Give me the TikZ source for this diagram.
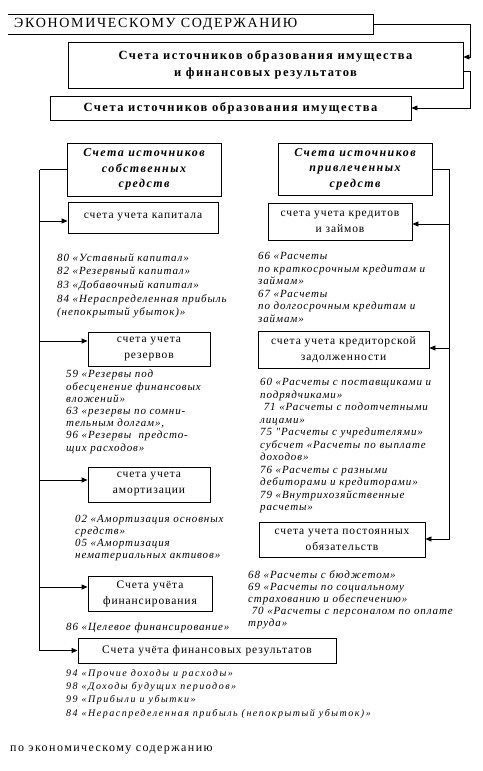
\documentclass[tikz,border=0pt]{standalone}
\usepackage{fontspec}
\setmainfont{Liberation Serif}
\usetikzlibrary{arrows.meta,calc}
\newfontfamily\boxfont[LetterSpace=8]{Liberation Serif}
\newfontfamily\capfont[LetterSpace=12]{Liberation Serif}
\newfontfamily\widefont[LetterSpace=15]{Liberation Serif}
\tikzset{
  box/.style={draw, line width=0.9pt, inner sep=0pt, align=center},
  ln/.style={line width=0.9pt},
  arr/.style={line width=0.9pt, -{Triangle[length=6pt,width=5pt]}},
  list/.style={anchor=north west, inner sep=0pt, align=left},
  btxt/.style={font=\fontsize{11.5}{16}\boxfont},
  bold/.style={font=\fontsize{12.5}{17}\capfont\bfseries},
  head/.style={font=\fontsize{12}{15.5}\capfont\bfseries\itshape},
}
\begin{document}
\begin{tikzpicture}[x=1pt,y=-1pt]
\useasboundingbox (0,0) rectangle (482,771);
% top
\node[inner sep=0pt, minimum width=365pt, minimum height=20pt, anchor=north west] (eco) at (8,14) {};
\draw[ln] (eco.north west) -- (eco.north east) -- (eco.south east) -- (eco.south west);
\node[anchor=west, inner sep=0pt, font=\fontsize{14}{15}\capfont] (ecot) at (14,24) {ЭКОНОМИЧЕСКОМУ СОДЕРЖАНИЮ};
\node[box, bold, minimum width=395pt, minimum height=46pt] (fin) at (265.5,65) {Счета источников образования имущества\\и финансовых результатов};
\node[box, bold, minimum width=361pt, minimum height=24pt] (ist) at (230.5,108) {Счета источников образования имущества};
\draw[arr] (eco.east) -| ([xshift=7pt,yshift=8pt]fin.east) -- ([yshift=8pt]fin.east);
\draw[arr] ([yshift=-6pt]fin.east) -| ([xshift=59pt]ist.east) -- (ist.east);
% headers
\node[box, head, minimum width=154pt, minimum height=53pt] (own) at (144,169.5) {Счета источников\\собственных\\средств};
\node[box, head, minimum width=154pt, minimum height=52pt] (prv) at (355,169) {Счета источников\\привлеченных\\средств};
% left boxes
\node[box, btxt, minimum width=150pt, minimum height=31pt] (cap) at (143,217.5) {счета учета капитала};
\node[box, btxt, minimum width=122pt, minimum height=34pt] (res) at (149,349) {счета учета\\резервов};
\node[box, btxt, minimum width=122pt, minimum height=35pt] (am) at (149,484.5) {счета учета\\амортизации};
\node[box, btxt, minimum width=124pt, minimum height=35pt] (fnc) at (150,593.5) {Счета учёта\\финансирования};
\node[box, btxt, minimum width=258pt, minimum height=25pt] (fres) at (207,650.5) {Счета учёта финансовых результатов};
% right boxes
\node[box, btxt, minimum width=144pt, minimum height=37pt] (cred) at (340,221.5) {счета учета кредитов\\и займов};
\node[box, btxt, minimum width=171pt, minimum height=37pt] (kred) at (343.5,349.5) {счета учета кредиторской\\задолженности};
\node[box, btxt, minimum width=166pt, minimum height=35pt] (post) at (342,539.5) {счета учета постоянных\\обязательств};
% left tree
\draw[ln] (own.west) -- ++(-27,0) coordinate (tl);
\draw[arr] (tl) -- (tl |- fres.west) -- (fres.west);
\draw[arr] (tl |- 0,221) -- (cap.west |- 0,221);
\draw[arr] (tl |- 0,341) -- (res.west |- 0,341);
\draw[arr] (tl |- 0,480) -- (am.west |- 0,480);
\draw[arr] (tl |- 0,587) -- (fnc.west |- 0,587);
% right tree
\draw[ln] (prv.east) -- ++(17,0) coordinate (tr);
\draw[arr] (tr) -- (tr |- 0,539) -- (post.east |- 0,539);
\draw[arr] (tr |- 0,224) -- (cred.east |- 0,224);
\draw[arr] (tr |- 0,348) -- (kred.east |- 0,348);
% lists
\node[list, font=\fontsize{11}{13.7}\boxfont\itshape] (l1) at (57,253) {80 «Уставный капитал»\\82 «Резервный капитал»\\83 «Добавочный капитал»\\84 «Нераспределенная прибыль\\(непокрытый убыток)»};
\node[list, font=\fontsize{11}{12.2}\boxfont\itshape] (l2) at (66,370) {59 «Резервы под\\обесценение финансовых\\вложений»\\63 «резервы по сомни-\\тельным долгам»,\\96 «Резервы\ \ предсто-\\щих расходов»};
\node[list, font=\fontsize{11}{12}\boxfont\itshape] (l3) at (75,515) {02 «Амортизация основных\\средств»\\05 «Амортизация\\нематериальных активов»};
\node[list, font=\fontsize{11}{12}\boxfont\itshape] (l4) at (66,623) {86 «Целевое финансирование»};
\node[list, font=\fontsize{10}{13.3}\widefont\itshape] (l5) at (66,669) {94 «Прочие доходы и расходы»\\98 «Доходы будущих периодов»\\99 «Прибыли и убытки»\\84 «Нераспределенная прибыль (непокрытый убыток)»};
\node[list, font=\fontsize{11}{12.6}\boxfont\itshape] (r1) at (258,252) {66 «Расчеты\\по краткосрочным кредитам и\\займам»\\67 «Расчеты\\по долгосрочным кредитам и\\займам»};
\node[list, font=\fontsize{11}{12.5}\boxfont\itshape] (r2) at (260,378) {60 «Расчеты с поставщиками и\\подрядчиками»\\\ 71 «Расчеты с подотчетными\\лицами»\\75 "Расчеты с учредителями»\\субсчет «Расчеты по выплате\\доходов»\\76 «Расчеты с разными\\дебиторами и кредиторами»\\79 «Внутрихозяйственные\\расчеты»};
\node[list, font=\fontsize{11}{12}\boxfont\itshape] (r3) at (248,570) {68 «Расчеты с бюджетом»\\69 «Расчеты по социальному\\страхованию и обеспечению»\\\ 70 «Расчеты с персоналом по оплате\\труда»};
\node[anchor=west, inner sep=0pt, font=\fontsize{12}{13}\capfont] (foot) at (10,750) {по экономическому содержанию};
\end{tikzpicture}
\end{document}
